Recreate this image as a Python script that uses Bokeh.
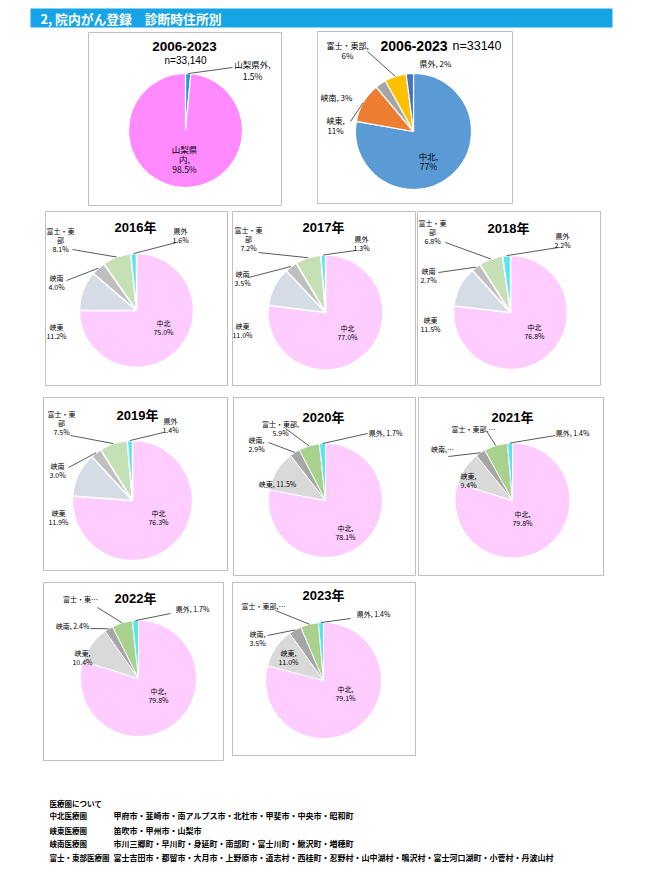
import math
from collections import defaultdict
from bokeh.plotting import figure
from bokeh.models import Range1d, ColumnDataSource
from bokeh.embed import file_html
from bokeh.resources import INLINE
from bokeh.core.properties import value

# ---------------- data ----------------
header_text = "2, 院内がん登録　診断時住所別"
period = "2006-2023"
n_text_1 = "n=33,140"
n_text_2 = "n=33140"

pref_names = ["山梨県外", "山梨県内"]
pref_values = [1.5, 98.5]

region_names = ["中北", "峡東", "峡南", "富士・東部", "県外"]
overall_values = [77, 11, 3, 6, 2]

years = ["2016年", "2017年", "2018年", "2019年", "2020年", "2021年", "2022年", "2023年"]
chuhoku = [75.0, 77.0, 76.8, 76.3, 78.1, 79.8, 79.8, 79.1]
kyoto = [11.2, 11.0, 11.5, 11.9, 11.5, 9.4, 10.4, 11.0]
kyonan = [4.0, 3.5, 2.7, 3.0, 2.9, 2.8, 2.4, 3.5]
fuji = [8.1, 7.2, 6.8, 7.5, 5.9, 6.6, 5.7, 5.0]
kengai = [1.6, 1.3, 2.2, 1.4, 1.7, 1.4, 1.7, 1.4]

fmtA = ["中北\n{v}%", "峡東\n{v}%", "峡南\n{v}%", "富士・東\n部\n{v}%", "県外\n{v}%"]
label_formats = [
    fmtA, fmtA, fmtA, fmtA,
    ["中北,\n{v}%", "峡東, {v}%", "峡南,\n{v}%", "富士・東部,\n{v}%", "県外, {v}%"],
    ["中北,\n{v}%", "峡東,\n{v}%", "峡南,…", "富士・東部,…", "県外, {v}%"],
    ["中北,\n{v}%", "峡東,\n{v}%", "峡南, {v}%", "富士・東…", "県外, {v}%"],
    ["中北,\n{v}%", "峡東,\n{v}%", "峡南,\n{v}%", "富士・東部,…", "県外, {v}%"],
]

footer_title = "医療圏について"
footer_areas = ["中北医療圏", "峡東医療圏", "峡南医療圏", "富士・東部医療圏"]
footer_cities = [
    "甲府市・韮崎市・南アルプス市・北杜市・甲斐市・中央市・昭和町",
    "笛吹市・甲州市・山梨市",
    "市川三郷町・早川町・身延町・南部町・富士川町・鰍沢町・増穂町",
    "富士吉田市・都留市・大月市・上野原市・道志村・西桂町・忍野村・山中湖村・鳴沢村・富士河口湖町・小菅村・丹波山村",
]

# ---------------- layout / style ----------------
W, H = 641, 874
JP = "Noto Sans CJK JP"
LAT = "Liberation Sans, Noto Sans CJK JP"

def Y(sy):
    return 882 - sy

p = figure(width=W, height=H, x_range=Range1d(0, W), y_range=Range1d(882 - H, 882),
           output_backend="svg", toolbar_location=None, min_border=0)
p.axis.visible = False
p.grid.visible = False
p.outline_line_color = None
p.background_fill_color = "white"

texts = defaultdict(lambda: {"x": [], "y": [], "text": []})

def txt(x, sy, s, size, bold=False, color="#000000", align="center", font=JP, lh=None):
    lines = s.split("\n")
    lh = lh if lh else size * 1.3
    key = (size, bold, color, align, font)
    for i, line in enumerate(lines):
        texts[key]["x"].append(x)
        texts[key]["y"].append(Y(sy + i * lh))
        texts[key]["text"].append(line)

seg = {"x0": [], "y0": [], "x1": [], "y1": []}
boxes = {"left": [], "right": [], "top": [], "bottom": []}

def box(x0, y0, x1, y1):
    boxes["left"].append(x0); boxes["right"].append(x1)
    boxes["top"].append(Y(y0)); boxes["bottom"].append(Y(y1))

def pie(cx, scy, r, vals, colors, lw=1.2):
    tot = float(sum(vals))
    cum = 0.0
    st, en, edge = [], [], []
    cy = Y(scy)
    for v in vals:
        a0 = math.pi / 2 - 2 * math.pi * cum / tot
        cum += v
        a1 = math.pi / 2 - 2 * math.pi * cum / tot
        st.append(a0); en.append(a1)
        m = (a0 + a1) / 2
        edge.append((cx + r * math.cos(m), cy + r * math.sin(m)))
    n = len(vals)
    p.wedge(x=[cx] * n, y=[cy] * n, radius=r, start_angle=st, end_angle=en,
            direction="clock", fill_color=colors, line_color="white", line_width=lw)
    return edge

def leader(edge_pt, ex, esy):
    seg["x0"].append(edge_pt[0]); seg["y0"].append(edge_pt[1])
    seg["x1"].append(ex); seg["y1"].append(Y(esy))

# header bar
p.quad(left=[30], right=[612], top=[Y(8)], bottom=[Y(27)], fill_color="#16A4E6", line_color=None)
txt(40, 17.5, header_text, 12.8, bold=True, color="#FFFFFF", align="left")

# ---- panel 1: prefecture in/out ----
box(88, 32, 281, 205)
txt(184, 46, period, 13.5, bold=True, font=LAT)
txt(185, 60, n_text_1, 10, font=LAT)
e = pie(185, 130, 57, pref_values, ["#1E9BE0", "#FF8AFF"])
txt(252, 63, f"{pref_names[0]},\n{pref_values[0]:.1f}%", 8.5, lh=12)
leader(e[0], 232, 67)
txt(184, 148, "山梨県\n内,\n" + f"{pref_values[1]:.1f}%", 8.5, lh=10)

# ---- panel 2: overall by region ----
box(317, 31, 512, 203)
txt(447, 45, period, 14, bold=True, align="right", font=LAT)
txt(452, 45, n_text_2, 12.5, align="left", font=LAT)
e = pie(413, 131, 58, overall_values, ["#5B9BD5", "#ED7D31", "#A5A5A5", "#FFC000", "#4472C4"])
txt(428, 155, f"{region_names[0]},\n{overall_values[0]}%", 8.5, lh=10)
txt(335, 120, f"{region_names[1]},\n{overall_values[1]}%", 8, lh=10)
txt(336, 97, f"{region_names[2]}, {overall_values[2]}%", 8)
txt(347, 45, f"{region_names[3]},\n{overall_values[3]}%", 8, lh=10)
txt(435, 63, f"{region_names[4]}, {overall_values[4]}%", 8)
leader(e[3], 367, 51)
leader(e[1], 350, 121)

# ---- yearly panels ----
layouts = [
    dict(box=(45, 211, 227, 385), title=(135, 227), c=(136, 310), r=57,
         lab=[(163, 322), (56, 326), (56, 277), (60, 230), (180, 230)],
         lead={2: (66, 280), 3: (72, 249), 4: (176, 242)}),
    dict(box=(232, 211, 415, 385), title=(323, 227), c=(325, 312), r=57.5,
         lab=[(347, 327), (242, 325), (242, 273), (248, 229), (361, 238)],
         lead={2: (248, 277), 3: (258, 252), 4: (355, 250)}),
    dict(box=(417, 211, 600, 385), title=(508, 228), c=(510, 312), r=57,
         lab=[(534, 326), (430, 319), (428, 270), (432, 222), (562, 235)],
         lead={2: (438, 272), 3: (445, 242), 4: (558, 247)}),
    dict(box=(43, 397, 227, 570), title=(137, 415), c=(132, 500), r=60,
         lab=[(158, 512), (58, 512), (57, 465), (61, 413), (170, 420)],
         lead={2: (68, 467), 3: (70, 435), 4: (163, 432)}),
    dict(box=(233, 397, 415, 575), title=(323, 417), c=(325, 500), r=57,
         lab=[(345, 527), (277, 483), (256, 439), (280, 423), (385, 432)],
         lead={2: (268, 442), 3: (285, 428), 4: (367, 433)}),
    dict(box=(418, 397, 603, 575), title=(512, 417), c=(512, 500), r=57.5,
         lab=[(522, 513), (468, 475), (442, 448), (473, 428), (572, 432)],
         lead={2: (448, 456), 3: (487, 432), 4: (555, 435)}),
    dict(box=(43, 582, 223, 760), title=(135, 598), c=(138, 678), r=58,
         lab=[(158, 690), (82, 652), (72, 625), (80, 598), (192, 608)],
         lead={2: (90, 628), 3: (97, 607), 4: (170, 613)}),
    dict(box=(232, 582, 415, 755), title=(323, 595), c=(323, 680), r=58,
         lab=[(345, 688), (288, 652), (257, 633), (263, 605), (373, 613)],
         lead={2: (267, 635), 3: (275, 610), 4: (350, 618)}),
]

colors_old = ["#FFCCFF", "#D6DCE5", "#BFBFBF", "#C5E0B4", "#55E6EE"]
colors_new = ["#FFCCFF", "#D9D9D9", "#A6A6A6", "#A9D18E", "#55E6EE"]

for i, yr in enumerate(years):
    L = layouts[i]
    vals = [chuhoku[i], kyoto[i], kyonan[i], fuji[i], kengai[i]]
    box(*L["box"])
    txt(L["title"][0], L["title"][1], yr, 13, bold=True, font=LAT)
    cols = colors_old if i < 4 else colors_new
    e = pie(L["c"][0], L["c"][1], L["r"], vals, cols, lw=1.5 if i < 4 else 1.0)
    for k in range(5):
        s = label_formats[i][k].format(v=f"{vals[k]:.1f}")
        lx, ly = L["lab"][k]
        txt(lx, ly, s, 7, lh=9)
    for k, (ex, ey) in L["lead"].items():
        leader(e[k], ex, ey)

# ---- footer ----
txt(49, 803, footer_title, 7.5, bold=True, align="left")
fy = [815, 830, 843, 857]
for k in range(4):
    txt(49, fy[k], footer_areas[k], 7.5, bold=True, align="left")
    txt(113, fy[k], footer_cities[k], 8, bold=True, align="left")

# ---- render collected primitives ----
p.quad(left="left", right="right", top="top", bottom="bottom", source=ColumnDataSource(boxes),
       fill_color=None, line_color="#BFBFBF", line_width=1)
p.segment(x0="x0", y0="y0", x1="x1", y1="y1", source=ColumnDataSource(seg),
          line_color="#303030", line_width=0.8)
for (size, bold, color, align, font), d in texts.items():
    p.text(x="x", y="y", text="text", source=ColumnDataSource(d),
           text_font=value(font), text_font_size=f"{size}px",
           text_font_style="bold" if bold else "normal", text_color=color,
           text_align=align, text_baseline="middle")

open("out.html", "w").write(file_html(p, INLINE))
